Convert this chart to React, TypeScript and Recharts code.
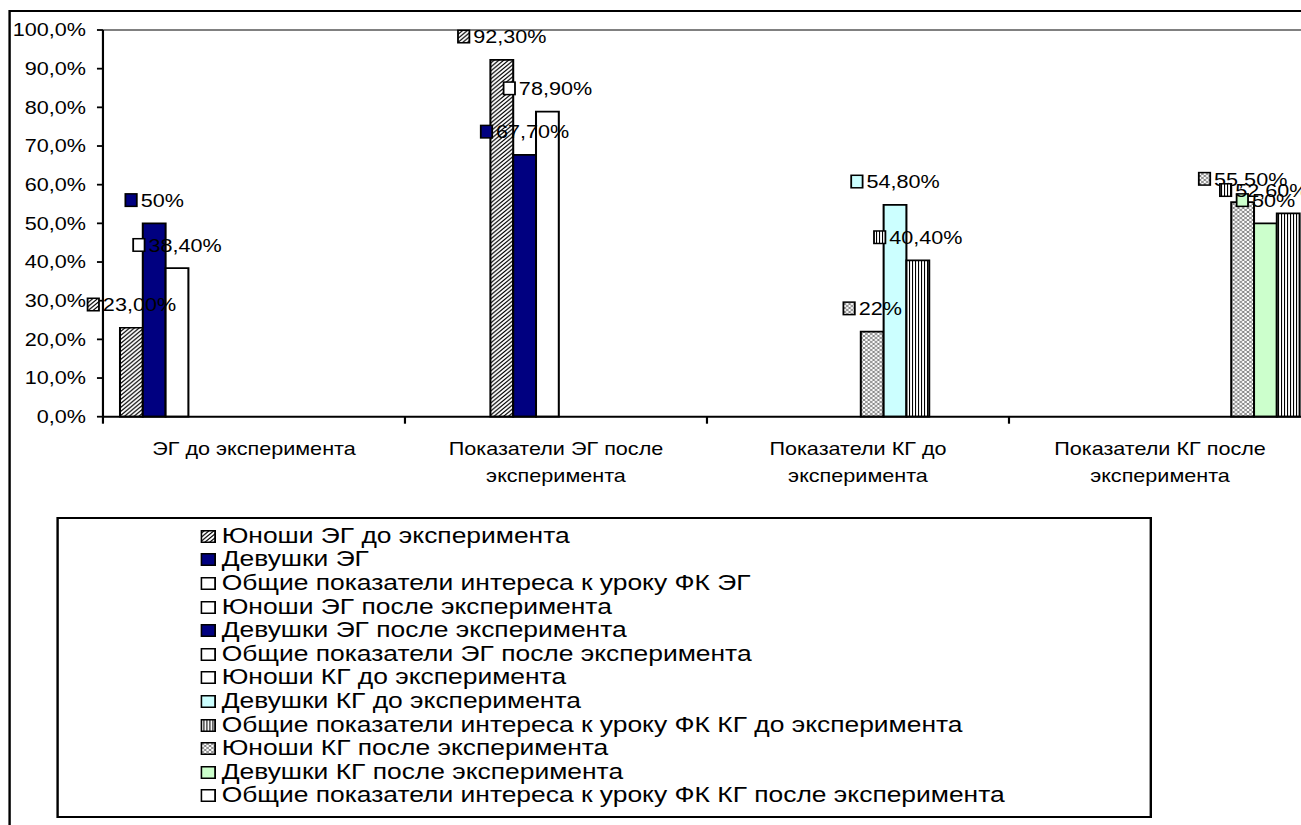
import React from "react";
import { Bar, BarChart, LabelList, Legend, ReferenceLine, XAxis, YAxis } from "recharts";

const categories = [
  "ЭГ до эксперимента",
  "Показатели ЭГ после эксперимента",
  "Показатели КГ до эксперимента",
  "Показатели КГ после эксперимента",
];

const seriesNames = [
  "Юноши ЭГ до эксперимента",
  "Девушки ЭГ",
  "Общие показатели интереса к уроку ФК ЭГ",
  "Юноши ЭГ после эксперимента",
  "Девушки ЭГ после эксперимента",
  "Общие показатели ЭГ после эксперимента",
  "Юноши КГ до эксперимента",
  "Девушки КГ до эксперимента",
  "Общие показатели интереса к уроку ФК КГ до эксперимента",
  "Юноши КГ после эксперимента",
  "Девушки КГ после эксперимента",
  "Общие показатели интереса к уроку ФК КГ после эксперимента",
];

// юноши, девушки, общие — for each group
const egBefore = [23.0, 50, 38.4];
const egAfter = [92.3, 67.7, 78.9];
const kgBefore = [22, 54.8, 40.4];
const kgAfter = [55.5, 50, 52.6];
const groupValues = [egBefore, egAfter, kgBefore, kgAfter];

const labelTexts = [
  "23,00%", "50%", "38,40%",
  "92,30%", "67,70%", "78,90%",
  "22%", "54,80%", "40,40%",
  "55,50%", "50%", "52,60%",
];

const yTicks = [0, 10, 20, 30, 40, 50, 60, 70, 80, 90, 100];

// styles
const FONT = "'Liberation Sans', Arial, sans-serif";
const STRETCH = 1.2; // the original picture is stretched horizontally
const W = 1100;
const H = 830;
const PLOT_LEFT = 85.8;
const PLOT_RIGHT = 1092.5;
const BAND = (PLOT_RIGHT - PLOT_LEFT) / categories.length;
const ICON = 11;
const GAP = 2.5;

const seriesFill = [
  "url(#wideUp)", "#000080", "#ffffff",
  "url(#wideUp)", "#000080", "#ffffff",
  "url(#diamond)", "#ccffff", "url(#vert)",
  "url(#diamond)", "#ccffcc", "url(#vert)",
];
const keyFill = [
  "url(#wideUp)", "#000080", "#ffffff",
  "#ffffff", "#000080", "#ffffff",
  "#ffffff", "#ccffff", "url(#vert)",
  "url(#diamond)", "#ccffcc", "#ffffff",
];
const labelShift = [0, 0, 0, 0, 0, 0, 0, 0, 0, 0, 0, -20.4];

const data = categories.map((name, ci) => {
  const row: Record<string, string | number> = { name };
  groupValues[ci].forEach((v, j) => {
    row[`s${ci * 3 + j}`] = v;
  });
  return row;
});

const fmtY = (v: number) => `${v.toFixed(1).replace(".", ",")}%`;

const textWidth = (s: string, size: number) =>
  s.split("").reduce((w, ch) => {
    if (ch === ",") return w + 0.278 * size;
    if (ch === "%") return w + 0.889 * size;
    return w + 0.556 * size;
  }, 0);

const wrapWords = (s: string, max: number) => {
  const lines: string[] = [];
  let cur = "";
  s.split(" ").forEach((word) => {
    const next = cur ? `${cur} ${word}` : word;
    if (next.length > max && cur) {
      lines.push(cur);
      cur = word;
    } else {
      cur = next;
    }
  });
  if (cur) lines.push(cur);
  return lines;
};

const CategoryTick = (props: any) => {
  const { x, y, payload, index } = props;
  const lines = wrapWords(String(payload.value), 20);
  return (
    <g>
      <line x1={x - BAND / 2} x2={x - BAND / 2} y1={y} y2={y + 7} stroke="#000" strokeWidth={1.8} />
      {index === categories.length - 1 && (
        <line x1={x + BAND / 2} x2={x + BAND / 2} y1={y} y2={y + 7} stroke="#000" strokeWidth={1.8} />
      )}
      {lines.map((l, k) => (
        <text key={k} x={x} y={y + 38.8 + k * 26.8} textAnchor="middle" fontSize={18} fill="#000" fontFamily={FONT}>
          {l}
        </text>
      ))}
    </g>
  );
};

const makeLabel = (si: number) => (props: any) => {
  const { x, y, width, height, value } = props;
  if (value == null || !(Math.abs(Number(height)) > 0)) return null;
  const text = labelTexts[si];
  const total = ICON + GAP + textWidth(text, 18);
  const cx = Number(x) + Number(width) / 2;
  const left = cx - total / 2 + labelShift[si];
  const cy = Number(y) - 23;
  return (
    <g>
      <rect x={left + 0.75} y={cy - 6.5} width={ICON - 1.5} height={12.5} fill={seriesFill[si]} stroke="#000" strokeWidth={1.5} />
      <text x={left + ICON + GAP} y={cy} dy="0.36em" fontSize={18} fill="#000" fontFamily={FONT}>
        {text}
      </text>
    </g>
  );
};

const LegendBox = (props: any) => {
  const payload = [...(props.payload || [])].sort(
    (a: any, b: any) => seriesNames.indexOf(a.value) - seriesNames.indexOf(b.value)
  );
  return (
    <div
      style={{
        boxSizing: "border-box",
        width: "100%",
        height: "100%",
        border: "2px solid #000",
        background: "#fff",
        padding: "4.9px 0 0 118px",
        fontSize: 22,
        lineHeight: "23.6px",
        color: "#000",
        fontFamily: FONT,
        textAlign: "left",
      }}
    >
      {payload.map((entry: any) => {
        const si = seriesNames.indexOf(entry.value);
        return (
          <div key={si} style={{ whiteSpace: "nowrap" }}>
            <svg width={13} height={13} style={{ marginRight: 5 }}>
              <rect x={0.75} y={0.75} width={11.5} height={11.5} fill={keyFill[si]} stroke="#000" strokeWidth={1.5} />
            </svg>
            {entry.value}
          </div>
        );
      })}
    </div>
  );
};

export default function App() {
  return (
    <div
      style={{
        position: "fixed",
        left: 0,
        top: 0,
        width: 1301,
        height: 825,
        overflow: "hidden",
        background: "#fff",
        fontFamily: FONT,
      }}
    >
      <div
        style={{
          position: "absolute",
          left: 0,
          top: 0,
          width: W,
          height: H,
          transform: `scaleX(${STRETCH})`,
          transformOrigin: "0 0",
        }}
      >
        <div
          style={{
            position: "absolute",
            left: 6.9,
            top: 10,
            width: 1200,
            height: 900,
            border: "2px solid #000",
          }}
        />
        <div style={{ position: "absolute", left: 0, top: 0 }}>
          <BarChart
            width={W}
            height={H}
            data={data}
            margin={{ top: 30, right: W - PLOT_RIGHT, left: 0, bottom: H - 416.7 - 60 }}
            barCategoryGap={14.2}
            barGap={0}
          >
            <defs>
              <pattern id="wideUp" width={4} height={4} patternUnits="userSpaceOnUse">
                <rect width={4} height={4} fill="#fff" />
                <path d="M-1,1 L1,-1 M0,4 L4,0 M3,5 L5,3" stroke="#000" strokeWidth={1.1} />
              </pattern>
              <pattern id="vert" width={2.5} height={4} patternUnits="userSpaceOnUse">
                <rect width={2.5} height={4} fill="#fff" />
                <rect width={0.9} height={4} fill="#000" />
              </pattern>
              <pattern id="diamond" width={4} height={4} patternUnits="userSpaceOnUse">
                <rect width={4} height={4} fill="#fff" />
                <path d="M0,0 L4,4 M4,0 L0,4" stroke="#555" strokeWidth={0.7} />
              </pattern>
            </defs>
            <ReferenceLine y={100} stroke="#808080" strokeWidth={2} />
            <XAxis
              dataKey="name"
              interval={0}
              tickLine={false}
              tickSize={0}
              tickMargin={0}
              height={60}
              stroke="#000"
              strokeWidth={2}
              tick={<CategoryTick />}
            />
            <YAxis
              domain={[0, 100]}
              ticks={yTicks}
              interval={0}
              tickFormatter={fmtY}
              width={PLOT_LEFT}
              tickSize={5}
              tickMargin={9.1}
              stroke="#000"
              strokeWidth={1.8}
              tick={{ fill: "#000", fontSize: 18, fontFamily: FONT }}
            />
            <Legend
              layout="vertical"
              align="center"
              verticalAlign="middle"
              itemSorter={null}
              wrapperStyle={{ left: 46.7, top: 517, width: 913.3, height: 301 }}
              content={<LegendBox />}
            />
            {seriesNames.map((name, si) => (
              <Bar
                key={si}
                dataKey={`s${si}`}
                name={name}
                fill={seriesFill[si]}
                stroke="#000"
                strokeWidth={1.7}
                isAnimationActive={false}
              >
                <LabelList dataKey={`s${si}`} content={makeLabel(si)} />
              </Bar>
            ))}
          </BarChart>
        </div>
      </div>
    </div>
  );
}
